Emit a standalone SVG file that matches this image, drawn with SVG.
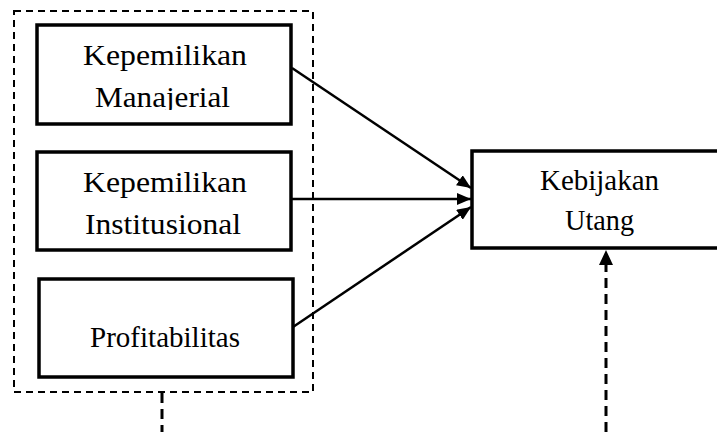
<svg xmlns="http://www.w3.org/2000/svg" width="717" height="432" viewBox="0 0 717 432">
<style>
.box{fill:#fff;stroke:#000;stroke-width:3.5}
.t{font-family:"Liberation Serif","Times New Roman",serif;font-size:29px;fill:#000;text-anchor:middle}
.ln{stroke:#000;stroke-width:2.5;fill:none}
.dash{stroke:#000;stroke-width:2;fill:none;stroke-dasharray:7,5}
.dash2{stroke:#000;stroke-width:3;fill:none;stroke-dasharray:10,6}
</style>
<defs>
<marker id="ah" viewBox="0 0 14 12" refX="14" refY="6" markerWidth="14" markerHeight="12" markerUnits="userSpaceOnUse" orient="auto">
<path d="M0,0 L14,6 L0,12 Z" fill="#000"/>
</marker>
<clipPath id="c1"><rect x="30" y="20" width="270" height="90"/></clipPath>
</defs>
<g id="group-box">
<rect x="14" y="11" width="299" height="381" class="dash"/>
</g>
<g id="node-manajerial">
<rect x="37" y="25" width="254" height="99" class="box"/>
<text class="t" x="165" y="65" textLength="164" lengthAdjust="spacingAndGlyphs">Kepemilikan</text>
<text class="t" x="162.5" y="107" textLength="135" lengthAdjust="spacingAndGlyphs" clip-path="url(#c1)">Manajerial</text>
</g>
<g id="node-institusional">
<rect x="37" y="152" width="254" height="98" class="box"/>
<text class="t" x="165" y="192" textLength="164" lengthAdjust="spacingAndGlyphs">Kepemilikan</text>
<text class="t" x="163" y="234" textLength="156" lengthAdjust="spacingAndGlyphs">Institusional</text>
</g>
<g id="node-profitabilitas">
<rect x="39" y="279" width="254" height="98" class="box"/>
<text class="t" x="165" y="347" textLength="150" lengthAdjust="spacingAndGlyphs">Profitabilitas</text>
</g>
<g id="node-kebijakan">
<rect x="472" y="151" width="260" height="97" class="box"/>
<text class="t" x="599.5" y="190" textLength="119" lengthAdjust="spacingAndGlyphs">Kebijakan</text>
<text class="t" x="599.5" y="230" textLength="69" lengthAdjust="spacingAndGlyphs">Utang</text>
</g>
<g id="connectors">
<line x1="292" y1="68" x2="471" y2="188" class="ln" marker-end="url(#ah)"/>
<line x1="292" y1="199" x2="471" y2="199" class="ln" marker-end="url(#ah)"/>
<line x1="293" y1="327" x2="471" y2="207" class="ln" marker-end="url(#ah)"/>
<line x1="162" y1="393" x2="162" y2="432" class="dash2"/>
<line x1="606" y1="432" x2="606" y2="262" class="dash2"/>
<path d="M606,250 L599,265 L613,265 Z" fill="#000"/>
</g>
</svg>
